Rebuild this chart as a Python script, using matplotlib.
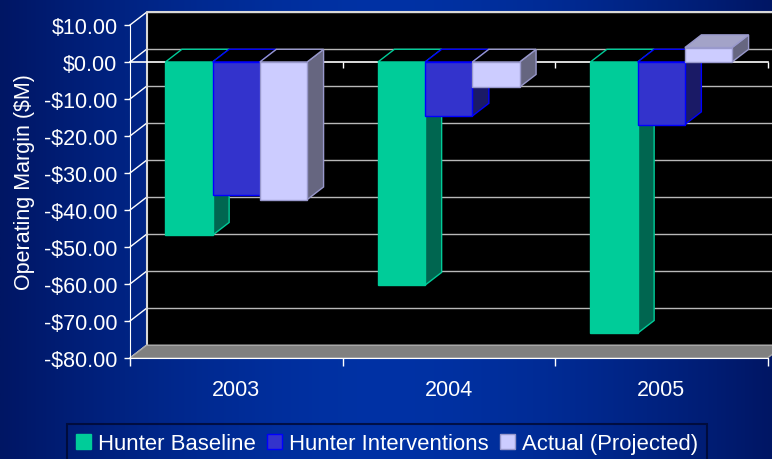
import numpy as np
import matplotlib.pyplot as plt
from matplotlib.patches import Rectangle, Polygon, Patch

plt.rcParams['font.family'] = ['Liberation Sans', 'DejaVu Sans']
plt.rcParams['font.size'] = 15.5

# data ($M)
years = ['2003', '2004', '2005']
series = ['Hunter Baseline', 'Hunter Interventions', 'Actual (Projected)']
baseline = [-46.8, -60.3, -73.3]
interventions = [-36.0, -14.6, -16.9]
actual = [-37.2, -6.8, 3.9]
yticks = list(range(-80, 11, 10))

front = ['#00CC99', '#3333CC', '#CCCCFF']
side = ['#006650', '#1A1A66', '#666680']
top = ['#00A37A', '#2828A3', '#A3A3C8']
edge = ['#00CC99', '#0000FF', '#9999CC']

W, H = 772, 460
fig = plt.figure(figsize=(W / 100, H / 100), dpi=100)

# blue gradient background, darker on both sides
bg = fig.add_axes([0, 0, 1, 1], zorder=-10)
t = np.linspace(-1, 1, 400)
prof = 1 - np.abs(t) ** 1.6
dark = np.array([0, 22, 100]) / 255
light = np.array([0, 50, 165]) / 255
img = dark[None, :] + (light - dark)[None, :] * prof[:, None]
bg.imshow(img[None, :, :], aspect='auto', extent=[0, 1, 0, 1])
bg.axis('off')

# front face of the 3D box
ax = fig.add_axes([130 / W, 1 - 359 / H, 637.5 / W, 333 / H], zorder=1)
ax.set_facecolor('none')
ax.set_xlim(0, 3)
ax.set_ylim(-80, 10)

# depth offset in data units
dx = 16.5 * 3 / 637.5
dy = 12.7 * 90 / 333

# back wall, gridlines, left wall lines, floor
ax.add_patch(Rectangle((dx, -80 + dy), 3, 90, facecolor='black', edgecolor='none',
                       clip_on=False, zorder=0))
for tk in yticks:
    ax.plot([dx, 3 + dx], [tk + dy, tk + dy], color='#B8B8B8', lw=1, clip_on=False, zorder=0.5)
    ax.plot([0, dx], [tk, tk + dy], color='white', lw=1, clip_on=False, zorder=0.5)
ax.plot([dx, dx, 3 + dx], [-80 + dy, 10 + dy, 10 + dy], color='#D8D8D8', lw=1.5,
        clip_on=False, zorder=0.6)
ax.add_patch(Polygon([(0, -80), (3, -80), (3 + dx, -80 + dy), (dx, -80 + dy)],
                     facecolor='#808080', edgecolor='#A8A8A8', lw=1, clip_on=False, zorder=0.7))

# front zero line with category ticks
ax.plot([0, 3], [0, 0], color='white', lw=1.2, clip_on=False, zorder=1)
ax.vlines([1, 2, 3], -1.6, 0, color='white', lw=1, clip_on=False, zorder=1)

# bars
values = [baseline, interventions, actual]
w = 2 / 9
for c in range(len(years)):
    for s in range(len(series)):
        v = values[s][c]
        x0 = c + 1 / 6 + s * w
        x1 = x0 + w
        ax.add_patch(Polygon([(x1, 0), (x1, v), (x1 + dx, v + dy), (x1 + dx, dy)],
                             facecolor=side[s], edgecolor=edge[s], lw=1, zorder=2))
        if v < 0:
            cap = [(x0, 0), (x1, 0), (x1 + dx, dy), (x0 + dx, dy)]
            ax.add_patch(Polygon(cap, facecolor='black', edgecolor=edge[s], lw=1, zorder=2))
        else:
            cap = [(x0, v), (x1, v), (x1 + dx, v + dy), (x0 + dx, v + dy)]
            ax.add_patch(Polygon(cap, facecolor=top[s], edgecolor=edge[s], lw=1, zorder=2))
        ax.add_patch(Rectangle((x0, min(v, 0)), w, abs(v), facecolor=front[s],
                               edgecolor=edge[s], lw=1, zorder=2))

# axes
for sp in ['top', 'right']:
    ax.spines[sp].set_visible(False)
ax.spines['left'].set_color('white')
ax.spines['bottom'].set_color('white')
ax.spines['left'].set_zorder(3)
ax.spines['bottom'].set_zorder(3)

ax.set_yticks(yticks)
ax.set_yticklabels([('-$' if v < 0 else '$') + f'{abs(v):.2f}' for v in yticks])
ax.tick_params(axis='y', direction='out', length=4, width=1, colors='white', pad=5)

ax.set_xticks([0, 1, 2, 3])
ax.set_xticklabels([])
ax.set_xticks([0.5, 1.5, 2.5], minor=True)
ax.set_xticklabels(years, minor=True)
ax.tick_params(axis='x', which='major', direction='out', length=6, width=1, colors='white')
ax.tick_params(axis='x', which='minor', length=0, colors='white', pad=15)

ax.set_ylabel('Operating Margin ($M)', color='white')
ax.yaxis.set_label_coords(-0.149, 0.53)

handles = [Patch(facecolor=front[i], edgecolor=edge[i]) for i in range(3)]
leg = fig.legend(handles, series, loc='upper left', bbox_to_anchor=(67 / W, 1 - 425 / H),
                 ncol=3, frameon=True, fancybox=False, handlelength=0.68, handleheight=0.68,
                 handletextpad=0.33, columnspacing=0.5, borderaxespad=0, borderpad=0.4,
                 labelcolor='white', fontsize=15.9)
leg.get_frame().set_facecolor('none')
leg.get_frame().set_edgecolor('#000830')
leg.get_frame().set_linewidth(1.5)

fig.savefig('out.png', dpi=100)
